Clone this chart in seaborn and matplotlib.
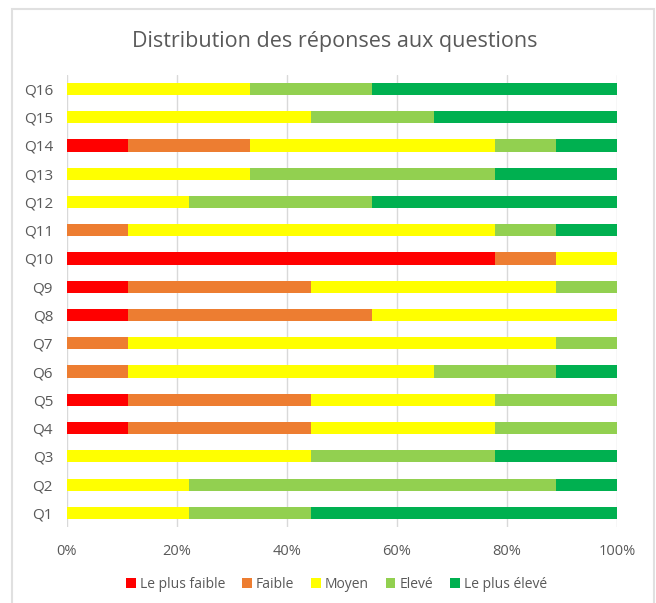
import numpy as np
import pandas as pd
import seaborn as sns
import matplotlib.pyplot as plt
from matplotlib.patches import Patch, Rectangle

# Donnees (nombre de reponses sur 9)
questions = ["Q1", "Q2", "Q3", "Q4", "Q5", "Q6", "Q7", "Q8",
             "Q9", "Q10", "Q11", "Q12", "Q13", "Q14", "Q15", "Q16"]
niveaux = ["Le plus faible", "Faible", "Moyen", "Elevé", "Le plus élevé"]
couleurs = ["#FF0000", "#ED7D31", "#FFFF00", "#92D050", "#00B050"]

le_plus_faible = [0, 0, 0, 1, 1, 0, 0, 1, 1, 7, 0, 0, 0, 1, 0, 0]
faible         = [0, 0, 0, 3, 3, 1, 1, 4, 3, 1, 1, 0, 0, 2, 0, 0]
moyen          = [2, 2, 4, 3, 3, 5, 7, 4, 4, 1, 6, 2, 3, 4, 4, 3]
eleve          = [2, 6, 3, 2, 2, 2, 1, 0, 1, 0, 1, 3, 4, 1, 2, 2]
le_plus_eleve  = [5, 1, 2, 0, 0, 1, 0, 0, 0, 0, 1, 4, 2, 1, 3, 4]

df = pd.DataFrame({"question": questions,
                   niveaux[0]: le_plus_faible, niveaux[1]: faible,
                   niveaux[2]: moyen, niveaux[3]: eleve, niveaux[4]: le_plus_eleve})
df = df.set_index("question")
pct = df.div(df.sum(axis=1), axis=0) * 100
cumul = pct.cumsum(axis=1)

sns.set_style("white")
plt.rcParams['font.family'] = ['Open Sans', 'DejaVu Sans']
gris = "#595959"

fig = plt.figure(figsize=(6.56, 6.03), dpi=100)
ax = fig.add_axes([0.102, 0.126, 0.8385, 0.750])

ordre = questions[::-1]
# on dessine du plus grand cumul au plus petit pour empiler
for niv, col in reversed(list(zip(niveaux, couleurs))):
    d = cumul[niv].reset_index()
    sns.barplot(data=d, y="question", x=niv, order=ordre, color=col,
                orient="h", width=0.43, ax=ax, saturation=1, linewidth=0, zorder=3)

ax.set_xlim(0, 100)
ax.set_ylim(15.5, -0.5)
ax.set_xticks([0, 20, 40, 60, 80, 100])
ax.set_xticklabels(["0%", "20%", "40%", "60%", "80%", "100%"])
ax.grid(axis="x", color="#D9D9D9", linewidth=1, zorder=0)
ax.set_axisbelow(True)
ax.set_xlabel("")
ax.set_ylabel("")
sns.despine(ax=ax, left=True, bottom=True)
ax.tick_params(axis="both", length=0, labelcolor=gris)
ax.tick_params(axis="x", pad=12, labelsize=10.5)
ax.tick_params(axis="y", pad=10, labelsize=11)

fig.text(0.511, 0.932, "Distribution des réponses aux questions",
         ha="center", va="center", fontsize=15.5, color=gris)

handles = [Patch(facecolor=c, edgecolor="none") for c in couleurs]
fig.legend(handles, niveaux, loc="center", bbox_to_anchor=(0.513, 0.031),
           ncol=5, frameon=False, fontsize=10, labelcolor=gris,
           handlelength=0.7, handleheight=0.7, handletextpad=0.3, columnspacing=1.2)

fig.patches.append(Rectangle((12 / 656, -0.01), 642 / 656, 1.01 - 9 / 603,
                             transform=fig.transFigure, fill=False,
                             edgecolor="#E0E0E0", linewidth=1.5))

fig.savefig("out.png", dpi=100)
